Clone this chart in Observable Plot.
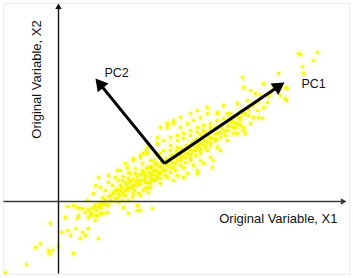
<!DOCTYPE html>
<html>
<head>
<meta charset="utf-8">
<script src="https://cdn.jsdelivr.net/npm/d3@7"></script>
<script src="https://cdn.jsdelivr.net/npm/@observablehq/plot@0.6"></script>
<style>
  html, body { margin: 0; padding: 0; background: #fff; }
  #chart svg { display: block; }
</style>
</head>
<body>
<div id="chart"></div>
<script>
// Observations in original-variable units (X1, X2)
const x1 = [
  -53,-32,-23,-18,-10,-6,-9,-8,0,
  3,7,9,12,15,17,19,19,9,22,24,25,27,30,30,37,39,40,45,
  15,22,32,35,40,45,52,59,37,49,82,70,65,79,42,35,29,50,57,62,69,75,82,89,72,79,85,92,95,102,69,62,55,75,85,92,
  40,37,50,59,67,75,82,88,64,70,77,84,90,97,67,74,80,87,94,100,60,80,90,47,44,64,70,79,34,32,42,94,
  109,115,122,129,135,142,149,159,169,99,105,112,119,125,132,139,145,152,159,165,172,102,112,119,129,139,145,152,159,169,175,122,132,142,149,159,95,95,105,115,125,135,145,155,99,109,119,129,139,92,
  149,165,179,159,172,182,185,179,169,162,152,142,154,139,125,115,102,92,89,102,109,115,122,132,139,99,89,85,
  175,179,182,184,185,185,187,192,192,195,197,199,200,204,205,205,209,215,220,222,227,227,228,229,240,242,244,245,255,259,189,194,180,187,177,182,170,174,190,197,202,212,
  57,62,67,72,77,82,87,92,97,102,107,112,117,122,127,132,137,142,147,152,157,162,52,47,60,67,74,82,87,92,97,102,107,112,117,122,127,132,137,142,147,152,157,162,167,70,77,84,92,99,105,112,119,125,132,139,145,152,54,60,65,42,50,37,27,20,
  30,33,36,38,41,43,46,48,51,53,55,57,59,61,63,64,66,68,69,71,72,74,75,76,78,79,81,82,83,85,86,87,88,89,91,92,93,94,96,97,98,99,101,102,103,104,106,107,108,109,111,112,113,114,116,117,118,119,121,122,123,124,126,127,128,129,131,132,133,134,136,137,138,139,141,142,143,144,146,147,148,149,151,152,154,155,157,158,160,162,164,166,168,170,173,176,179,182,185,190,195,200,210
];
const x2 = [
  -71,-63,-46,-42,-49,-49,-52,-22,-45,
  -31,-16,-29,-34,-52,-27,-17,-6,-5,-37,-31,-7,-34,-27,-16,-19,-14,-37,-12,
  -4,-7,-11,-7,-6,-2,1,3,-14,-11,-9,-12,-6,-4,14,8,1,19,24,31,34,41,44,48,28,21,28,34,21,28,14,11,8,8,11,14,
  24,16,26,31,38,43,46,50,21,23,28,31,34,38,11,14,18,19,23,28,8,8,9,11,4,1,1,-9,-7,-14,-12,-7,
  74,78,74,78,81,84,88,89,88,58,61,64,66,68,71,74,76,78,81,83,84,48,51,54,54,58,61,64,68,71,74,44,44,48,51,54,41,31,31,34,34,36,38,41,24,24,26,28,28,26,
  94,96,98,88,88,84,74,68,61,51,44,41,34,31,24,21,18,21,14,74,78,81,84,88,91,64,54,48,
  68,78,91,124,114,71,68,111,78,84,108,91,84,83,118,94,99,114,128,106,114,103,101,113,148,147,135,128,141,149,101,96,83,88,74,76,76,81,86,99,106,108,
  11,16,19,21,16,21,25,29,31,35,41,43,46,49,51,56,61,66,69,71,74,76,6,1,-1,6,4,6,13,18,21,23,26,29,31,36,39,41,46,51,54,56,61,64,66,29,33,38,41,46,51,56,61,63,66,69,71,74,16,21,25,-4,-4,-4,-11,-14,
  -8,-12,-5,-9,-2,-6,2,-3,5,0,9,3,12,6,14,8,10,17,12,19,13,16,22,11,20,25,17,27,21,30,22,26,33,19,29,24,35,27,32,26,37,30,35,29,40,33,38,31,43,36,40,34,46,39,44,38,50,42,47,41,53,45,49,44,56,48,52,47,59,50,55,51,62,54,58,53,65,57,61,56,68,60,64,59,70,63,67,62,74,69,73,70,79,75,80,78,86,82,88,92,97,100,105
];
const points = x1.map((v, i) => ({x1: v, x2: x2[i]}));

// Principal component directions, drawn from the data centre
const centre = {x1: 106, x2: 38};
const components = [
  {name: "PC1", x1: 226, x2: 119, lx: 243, ly: 118},
  {name: "PC2", x1: 37, x2: 123, lx: 46, ly: 129}
];
const axisLabels = {x: "Original Variable, X1", y: "Original Variable, X2"};
const axes = [
  {x1: -55, y1: 0, x2: 288, y2: 0, color: "#3a3a3a"},
  {x1: 0, y1: -72, x2: 0, y2: 198, color: "#111"}
];

// helpers for filled arrowheads (x and y scales share one unit per pixel)
function heads(list, sx, sy, r) {
  return list.map(d => {
    const dx = d.x2 - d[sx], dy = d.y2 - d[sy];
    const len = Math.hypot(dx, dy), off = 1.555 * r;
    return {x: d.x2 - dx / len * off, y: d.y2 - dy / len * off, angle: Math.atan2(dx, dy) * 180 / Math.PI, color: d.color};
  });
}
const pcSegs = components.map(c => ({x1: centre.x1, y1: centre.x2, x2: c.x1, y2: c.x2, color: "#000"}));
const pcHeads = heads(pcSegs, "x1", "y1", 5.2);
const axisHeads = heads(axes, "x1", "y1", 2.4);

const font = "'Liberation Sans', Arial, sans-serif";

const chart = Plot.plot({
  width: 353,
  height: 278,
  marginTop: 3,
  marginLeft: 3,
  marginRight: 4,
  marginBottom: 4,
  style: {fontFamily: font, background: "#fff"},
  x: {domain: [-55, 291], axis: null},
  y: {domain: [-73, 198], axis: null},
  marks: [
    Plot.frame({stroke: "#ececec"}),
    Plot.dot(points, {x: "x1", y: "x2", r: 4.2, fill: "#ffff60", fillOpacity: 0.22, stroke: "none"}),
    Plot.dot(points, {x: "x1", y: "x2", r: 1.75, fill: "#f6f600", fillOpacity: 0.9, stroke: "none"}),
    Plot.link(axes, {x1: "x1", y1: "y1", x2: d => d.x2 - Math.sign(d.x2 - d.x1) * 3, y2: d => d.y2 - Math.sign(d.y2 - d.y1) * 3, stroke: d => d.color, strokeWidth: 1.4}),
    Plot.dot(axisHeads, {x: "x", y: "y", symbol: "triangle", r: 2.4, rotate: "angle", fill: d => d.color, stroke: "none"}),
    Plot.link(pcSegs, {x1: "x1", y1: "y1", x2: d => d.x2 - (d.x2 - d.x1) * 0.06, y2: d => d.y2 - (d.y2 - d.y1) * 0.06, stroke: "#000", strokeWidth: 3}),
    Plot.dot(pcHeads, {x: "x", y: "y", symbol: "triangle", r: 5.2, rotate: "angle", fill: "#000", stroke: "none"}),
    Plot.text(components, {x: "lx", y: "ly", text: "name", textAnchor: "start", fontSize: 12.5, fill: "#111"}),
    Plot.text([axisLabels.x], {x: 279, y: -17, text: d => d, textAnchor: "end", fontSize: 13, fill: "#111"}),
    Plot.text([axisLabels.y], {x: -22, y: 122, text: d => d, rotate: -90, fontSize: 13, fill: "#111"})
  ]
});
document.getElementById("chart").appendChild(chart);
</script>
</body>
</html>
